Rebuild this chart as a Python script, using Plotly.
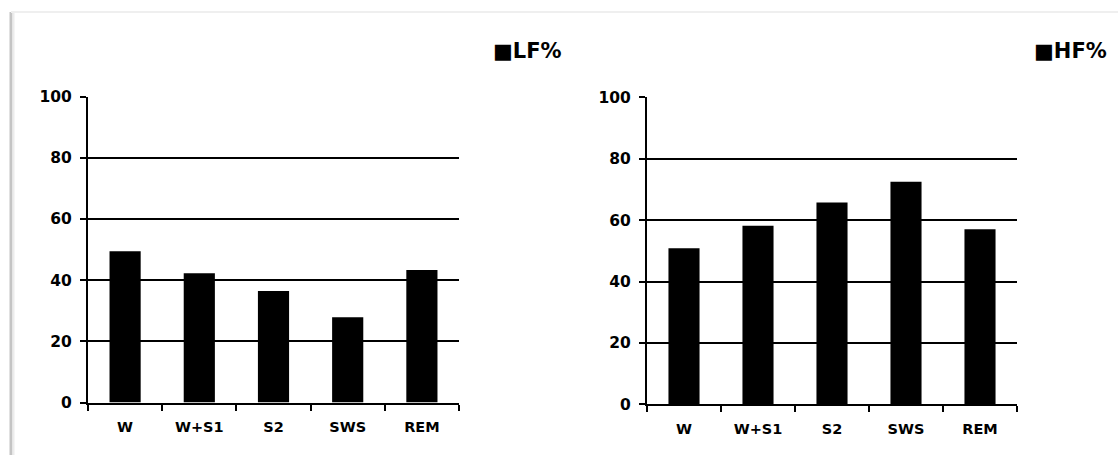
import plotly.graph_objects as go

categories = ["W", "W+S1", "S2", "SWS", "REM"]
lf_values = [49.4, 42.2, 36.4, 27.9, 43.3]
hf_values = [50.8, 58.2, 65.7, 72.5, 57.0]
y_ticks = [0, 20, 40, 60, 80, 100]
series_names = ["LF%", "HF%"]

W, H = 1118, 455


def fx(p):
    return p / W


def fy(p):
    return 1 - p / H


FONT = "DejaVu Sans"

fig = go.Figure()
fig.add_trace(go.Bar(x=categories, y=lf_values, name=series_names[0],
                     marker=dict(color="black", line=dict(width=0)),
                     xaxis="x", yaxis="y", showlegend=False))
fig.add_trace(go.Bar(x=categories, y=hf_values, name=series_names[1],
                     marker=dict(color="black", line=dict(width=0)),
                     xaxis="x2", yaxis="y2", showlegend=False))


def xax(domain, anchor):
    return dict(domain=domain, anchor=anchor, type="category",
                range=[-0.5, 4.5], showline=True, linecolor="black",
                linewidth=2, ticks="outside", tickson="boundaries",
                ticklen=6, tickwidth=1.6, tickcolor="black", showgrid=False,
                tickfont=dict(family=FONT, size=14.5, color="black", weight="bold"),
                ticklabelstandoff=10, fixedrange=True, automargin=False)


def yax(domain, anchor):
    return dict(domain=domain, anchor=anchor, range=[0, 100],
                tickmode="array", tickvals=y_ticks, showline=True,
                linecolor="black", linewidth=2, ticks="outside", ticklen=6,
                tickwidth=1.6, tickcolor="black", showgrid=True,
                gridcolor="black", gridwidth=2, zeroline=False,
                tickfont=dict(family=FONT, size=15.5, color="black", weight="bold"),
                ticklabelstandoff=5, fixedrange=True, automargin=False)


legend_font = dict(family=FONT, size=21, color="black", weight="bold")

fig.update_layout(
    width=W, height=H, autosize=False,
    margin=dict(l=0, r=0, t=0, b=0, autoexpand=False),
    paper_bgcolor="white", plot_bgcolor="white",
    bargap=0.58, showlegend=False,
    xaxis=xax([fx(88), fx(459)], "y"),
    yaxis=yax([fy(402.5), fy(96.5)], "x"),
    xaxis2=xax([fx(647), fx(1017)], "y2"),
    yaxis2=yax([fy(404.3), fy(97.3)], "x2"),
    annotations=[
        dict(text="■" + series_names[0], xref="paper", yref="paper",
             x=fx(491), y=fy(51), xanchor="left", yanchor="middle",
             showarrow=False, font=legend_font),
        dict(text="■" + series_names[1], xref="paper", yref="paper",
             x=fx(1032), y=fy(51), xanchor="left", yanchor="middle",
             showarrow=False, font=legend_font),
    ],
    shapes=[
        dict(type="line", xref="paper", yref="paper", x0=fx(11), x1=fx(11),
             y0=fy(12), y1=0, line=dict(color="#c4c4c4", width=3)),
        dict(type="line", xref="paper", yref="paper", x0=fx(13.5), x1=fx(13.5),
             y0=fy(12), y1=0, line=dict(color="#ececec", width=2)),
        dict(type="line", xref="paper", yref="paper", x0=fx(11), x1=1,
             y0=fy(12), y1=fy(12), line=dict(color="#efefef", width=2)),
    ],
)

fig.write_html("out.html", config={"displayModeBar": False},
               post_script="document.body.style.margin='0';document.body.style.overflow='hidden';")
